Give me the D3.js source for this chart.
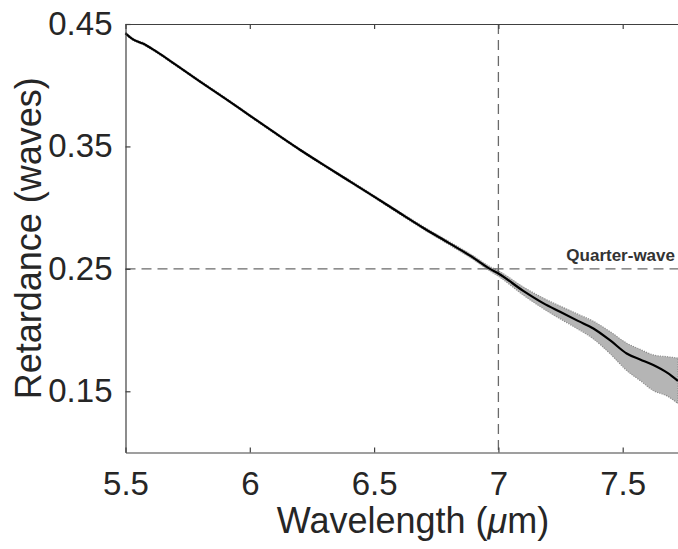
<!DOCTYPE html>
<html>
<head>
<meta charset="utf-8">
<script src="https://cdn.jsdelivr.net/npm/d3@7"></script>
<style>
  html, body { margin: 0; padding: 0; background: #fff; }
  svg { display: block; }
  text { font-family: "Liberation Sans", Arial, sans-serif; fill: #262626; }
</style>
</head>
<body>
<svg id="chart" width="678" height="549"></svg>
<script>
// Measured retardance of the waveplate versus wavelength
const wavelength = [5.500, 5.530, 5.570, 5.620, 5.700, 5.800, 5.900, 6.000, 6.100, 6.200,
                    6.300, 6.400, 6.500, 6.600, 6.700, 6.800, 6.900, 6.966, 7.000, 7.100,
                    7.180, 7.248, 7.320, 7.382, 7.450, 7.516, 7.570, 7.623, 7.680, 7.722];
const retardance = [0.4424, 0.4375, 0.4340, 0.4280, 0.4170, 0.4030, 0.3893, 0.3752, 0.3612, 0.3475,
                    0.3345, 0.3218, 0.3090, 0.2960, 0.2832, 0.2712, 0.2590, 0.2500, 0.2462, 0.2320,
                    0.2220, 0.2149, 0.2075, 0.2013, 0.1915, 0.1809, 0.1760, 0.1714, 0.1650, 0.1585];
// Uncertainty envelope (upper / lower bounds)
const retUpper = [0.4432, 0.4383, 0.4348, 0.4288, 0.4178, 0.4038, 0.3901, 0.3760, 0.3620, 0.3483,
                  0.3353, 0.3227, 0.3099, 0.2970, 0.2843, 0.2725, 0.2605, 0.2518, 0.2484, 0.2352,
                  0.2262, 0.2196, 0.2130, 0.2072, 0.1986, 0.1893, 0.1842, 0.1797, 0.1782, 0.1771];
const retLower = [0.4416, 0.4367, 0.4332, 0.4272, 0.4162, 0.4022, 0.3885, 0.3744, 0.3604, 0.3467,
                  0.3337, 0.3209, 0.3081, 0.2950, 0.2821, 0.2699, 0.2575, 0.2482, 0.2440, 0.2286,
                  0.2176, 0.2092, 0.2008, 0.1928, 0.1806, 0.1670, 0.1588, 0.1506, 0.1460, 0.1400];

const xTicks = [5.5, 6, 6.5, 7, 7.5];
const xTickLabels = ["5.5", "6", "6.5", "7", "7.5"];
const yTicks = [0.15, 0.25, 0.35, 0.45];
const yTickLabels = ["0.15", "0.25", "0.35", "0.45"];
const xDomain = [5.5, 7.75];
const yDomain = [0.10, 0.45];
const quarterWave = 0.25;
const markerWavelength = 7;
const quarterLabel = "Quarter-wave";

(function draw() {
  const svg = d3.select("#chart");
  const plotLeft = 125.5, plotTop = 24, plotBottom = 452.5;
  const pxPerUnit = 248.6;
  const x = d3.scaleLinear().domain(xDomain)
    .range([plotLeft, plotLeft + pxPerUnit * (xDomain[1] - xDomain[0])]);
  const y = d3.scaleLinear().domain(yDomain).range([plotBottom, plotTop]);
  const plotRight = x(xDomain[1]);

  const data = wavelength.map((w, i) => ({ w, r: retardance[i], hi: retUpper[i], lo: retLower[i] }));

  const plot = svg.append("g");

  // Uncertainty band
  const area = d3.area().x(d => x(d.w)).y0(d => y(d.lo)).y1(d => y(d.hi)).curve(d3.curveMonotoneX);
  plot.append("path").datum(data)
    .attr("d", area)
    .attr("fill", "#b5b5b5")
    .attr("stroke", "#8c8c8c")
    .attr("stroke-width", 1.2)
    .attr("stroke-dasharray", "1.2,1.2");

  // Reference lines
  plot.append("line")
    .attr("x1", x(xDomain[0])).attr("x2", plotRight)
    .attr("y1", y(quarterWave)).attr("y2", y(quarterWave))
    .attr("stroke", "#6a6a6a").attr("stroke-width", 1.3)
    .attr("stroke-dasharray", "10,6");
  plot.append("line")
    .attr("x1", x(markerWavelength)).attr("x2", x(markerWavelength))
    .attr("y1", plotTop).attr("y2", plotBottom)
    .attr("stroke", "#6a6a6a").attr("stroke-width", 1.3)
    .attr("stroke-dasharray", "10,6");

  // Mean retardance curve
  const line = d3.line().x(d => x(d.w)).y(d => y(d.r)).curve(d3.curveMonotoneX);
  plot.append("path").datum(data)
    .attr("d", line)
    .attr("fill", "none")
    .attr("stroke", "#000")
    .attr("stroke-width", 2.2);

  plot.append("text")
    .attr("x", 675).attr("y", y(quarterWave) - 8)
    .attr("text-anchor", "end")
    .attr("font-size", 17).attr("font-weight", "bold")
    .style("fill", "#333")
    .text(quarterLabel);

  // Axes (ticks point inward)
  const fmtX = d => xTickLabels[xTicks.indexOf(d)];
  const fmtY = d => yTickLabels[yTicks.indexOf(d)];

  const xAxis = svg.append("g").attr("transform", `translate(0,${plotBottom})`)
    .call(d3.axisBottom(x).tickValues(xTicks).tickFormat(fmtX).tickSizeInner(-5).tickSizeOuter(0).tickPadding(19));
  const xTop = svg.append("g").attr("transform", `translate(0,${plotTop})`)
    .call(d3.axisTop(x).tickValues(xTicks).tickFormat("").tickSizeInner(-5).tickSizeOuter(0));
  const yAxis = svg.append("g").attr("transform", `translate(${plotLeft},0)`)
    .call(d3.axisLeft(y).tickValues(yTicks).tickFormat(fmtY).tickSizeInner(-5).tickSizeOuter(0).tickPadding(13));

  [xAxis, xTop, yAxis].forEach(g => {
    g.select(".domain").attr("stroke", "#404040").attr("stroke-width", 1.2);
    g.selectAll(".tick line").attr("stroke", "#404040").attr("stroke-width", 1.2);
    g.selectAll(".tick text").attr("font-family", "Liberation Sans, Arial, sans-serif")
      .attr("font-size", 33).style("fill", "#262626");
  });
  xAxis.selectAll(".tick text").attr("dy", "0.71em");

  // Axis titles
  const xTitle = svg.append("text")
    .attr("x", 413).attr("y", 533)
    .attr("text-anchor", "middle")
    .attr("font-size", 36);
  xTitle.append("tspan").text("Wavelength (");
  xTitle.append("tspan").attr("font-style", "italic").text("\u03bc");
  xTitle.append("tspan").text("m)");

  svg.append("text")
    .attr("transform", `translate(41,${(plotTop + plotBottom) / 2}) rotate(-90)`)
    .attr("text-anchor", "middle")
    .attr("font-size", 36)
    .text("Retardance (waves)");
})();
</script>
</body>
</html>
